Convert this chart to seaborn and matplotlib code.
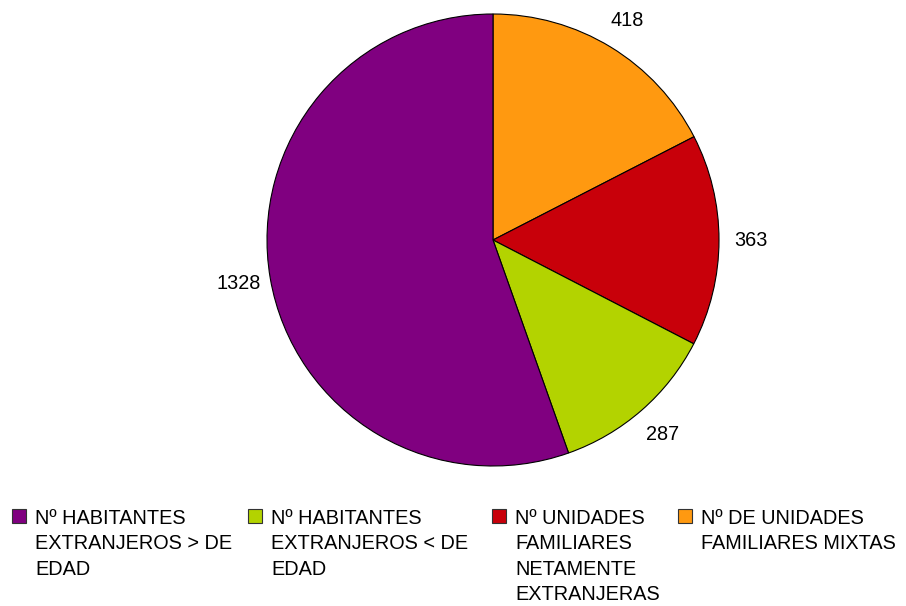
from matplotlib import pyplot as plt
from matplotlib.patches import Rectangle
import seaborn as sns

# data, clockwise from 12 o'clock
valores = [418, 363, 287, 1328]
colores = ['#FF9910', '#C8000A', '#B3D300', '#800080']
# legend order
etiquetas = ['Nº HABITANTES\nEXTRANJEROS > DE\nEDAD',
             'Nº HABITANTES\nEXTRANJEROS < DE\nEDAD',
             'Nº UNIDADES\nFAMILIARES\nNETAMENTE\nEXTRANJERAS',
             'Nº DE UNIDADES\nFAMILIARES MIXTAS']
colores_leyenda = ['#800080', '#B3D300', '#C8000A', '#FF9910']

sns.set_style("white")
plt.rcParams['font.family'] = ['Liberation Sans', 'DejaVu Sans']

W, H = 906, 606
f = plt.figure(figsize=(W / 100, H / 100), dpi=100)
# pie centre (493, 240) px, radius 226 px, limits +-1.25
r = 226
cx, cy = 493, H - 240
side = 2.5 * r
ax = f.add_axes([(cx - side / 2) / W, (cy - side / 2) / H, side / W, side / H])

total = sum(valores)
ax.pie(valores, colors=colores, startangle=90, counterclock=False,
       wedgeprops=dict(edgecolor='black', linewidth=0.8),
       autopct=lambda p: f"{round(p * total / 100)}", pctdistance=1.14,
       textprops=dict(fontsize=14.3, color='black'))
ax.set_xlim(-1.25, 1.25)
ax.set_ylim(-1.25, 1.25)

# legend drawn by hand so the squares line up with the first line
xs = [12, 248, 492, 678]
for x, lab, c in zip(xs, etiquetas, colores_leyenda):
    f.add_artist(Rectangle((x / W, 1 - 523 / H), 14 / W, 14 / H,
                           facecolor=c, edgecolor='#333333', linewidth=0.8,
                           transform=f.transFigure))
    f.text((x + 23) / W, 1 - 509 / H, lab, fontsize=14.3, va='top', ha='left',
           linespacing=1.43, color='black')

plt.savefig('out.png', dpi=100)
